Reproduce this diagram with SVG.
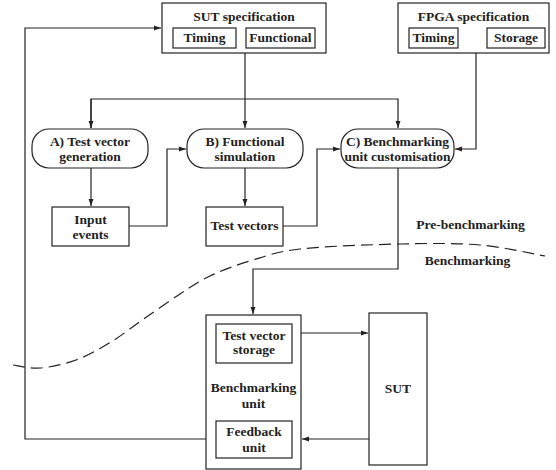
<svg xmlns="http://www.w3.org/2000/svg" width="556" height="470" viewBox="0 0 556 470">
<defs>
<marker id="arr" viewBox="0 0 10 10" refX="10" refY="5" markerWidth="7" markerHeight="7" markerUnits="userSpaceOnUse" orient="auto"><path d="M0,1.5 L10,5 L0,8.5 Z" fill="#222"/></marker>
<style>
.box{fill:#fff;stroke:#222;stroke-width:1.2}
.ln{fill:none;stroke:#222;stroke-width:1.2}
.t{font-family:"Liberation Serif","Times New Roman",serif;font-weight:bold;font-size:13.5px;fill:#222;text-anchor:middle}
</style>
</defs>
<rect width="556" height="470" fill="#fff"/>
<g id="connectors">
<path class="ln" d="M245,53 V128" marker-end="url(#arr)"/>
<path class="ln" d="M91,128 V99 H398 V128" marker-end="url(#arr)"/>
<path class="ln" d="M91,99 V128" marker-end="url(#arr)"/>
<path class="ln" d="M476,53 V149 H455" marker-end="url(#arr)"/>
<path class="ln" d="M91,168 V206" marker-end="url(#arr)"/>
<path class="ln" d="M245,168 V206" marker-end="url(#arr)"/>
<path class="ln" d="M129,226 H167 V149 H186" marker-end="url(#arr)"/>
<path class="ln" d="M283,226 H317 V149 H340" marker-end="url(#arr)"/>
<path class="ln" d="M398,168 V269 H253 V314" marker-end="url(#arr)"/>
<path class="ln" d="M301,333 H368" marker-end="url(#arr)"/>
<path class="ln" d="M369,439 H302" marker-end="url(#arr)"/>
<path class="ln" d="M216,439 H25 V28 H161" marker-end="url(#arr)"/>
<path class="ln" stroke-dasharray="12,6" d="M13,365 C17.5,365.5 29.5,368.8 40,368 C50.5,367.2 64.2,364.3 76,360 C87.8,355.7 99.5,349 111,342 C122.5,335 133.5,326 145,318 C156.5,310 169.2,301 180,294 C190.8,287 198.3,281.5 210,276 C221.7,270.5 235,265.5 250,261 C265,256.5 275,251.8 300,249 C325,246.2 370,244.7 400,244 C430,243.3 455.8,243 480,245 C504.2,247 534.2,254.2 545,256"/>
</g>
<g id="sut-spec">
<rect class="box" x="162" y="3" width="164" height="50"/>
<text class="t" x="244" y="21">SUT specification</text>
<rect class="box" x="173" y="28" width="63" height="20"/>
<text class="t" x="204.5" y="41.5">Timing</text>
<rect class="box" x="246" y="28" width="69" height="20"/>
<text class="t" x="280.5" y="41.5">Functional</text>
</g>
<g id="fpga-spec">
<rect class="box" x="398" y="3" width="151" height="50"/>
<text class="t" x="473.5" y="21">FPGA specification</text>
<rect class="box" x="409" y="28" width="49" height="20"/>
<text class="t" x="433.5" y="41.5">Timing</text>
<rect class="box" x="487" y="28" width="58" height="20"/>
<text class="t" x="516" y="41.5">Storage</text>
</g>
<g id="node-a">
<rect class="box" x="32" y="129" width="116" height="39" rx="17" ry="17"/>
<text class="t" x="90" y="146">A) Test vector</text>
<text class="t" x="90" y="160.5">generation</text>
</g>
<g id="node-b">
<rect class="box" x="187" y="129" width="116" height="39" rx="17" ry="17"/>
<text class="t" x="245" y="146">B) Functional</text>
<text class="t" x="245" y="160.5">simulation</text>
</g>
<g id="node-c">
<rect class="box" x="341" y="129" width="113" height="39" rx="17" ry="17"/>
<text class="t" x="397.5" y="146">C) Benchmarking</text>
<text class="t" x="397.5" y="160.5">unit customisation</text>
</g>
<g id="input-events">
<rect class="box" x="52" y="207" width="77" height="39"/>
<text class="t" x="90.5" y="224">Input</text>
<text class="t" x="90.5" y="238.5">events</text>
</g>
<g id="test-vectors">
<rect class="box" x="206" y="207" width="77" height="39"/>
<text class="t" x="244.5" y="230">Test vectors</text>
</g>
<g id="phase-labels">
<text class="t" x="470.5" y="228.5">Pre-benchmarking</text>
<text class="t" x="467.5" y="265">Benchmarking</text>
</g>
<g id="benchmarking-unit">
<rect class="box" x="206" y="315" width="95" height="154"/>
<text class="t" x="253.5" y="392">Benchmarking</text>
<text class="t" x="253.5" y="408">unit</text>
</g>
<g id="test-vector-storage">
<rect class="box" x="216" y="324" width="76" height="39"/>
<text class="t" x="254" y="339.5">Test vector</text>
<text class="t" x="254" y="354">storage</text>
</g>
<g id="feedback-unit">
<rect class="box" x="216" y="421" width="76" height="37"/>
<text class="t" x="254" y="436">Feedback</text>
<text class="t" x="254" y="451.5">unit</text>
</g>
<g id="sut">
<rect class="box" x="369" y="313" width="58" height="152"/>
<text class="t" x="398" y="393">SUT</text>
</g>
</svg>
